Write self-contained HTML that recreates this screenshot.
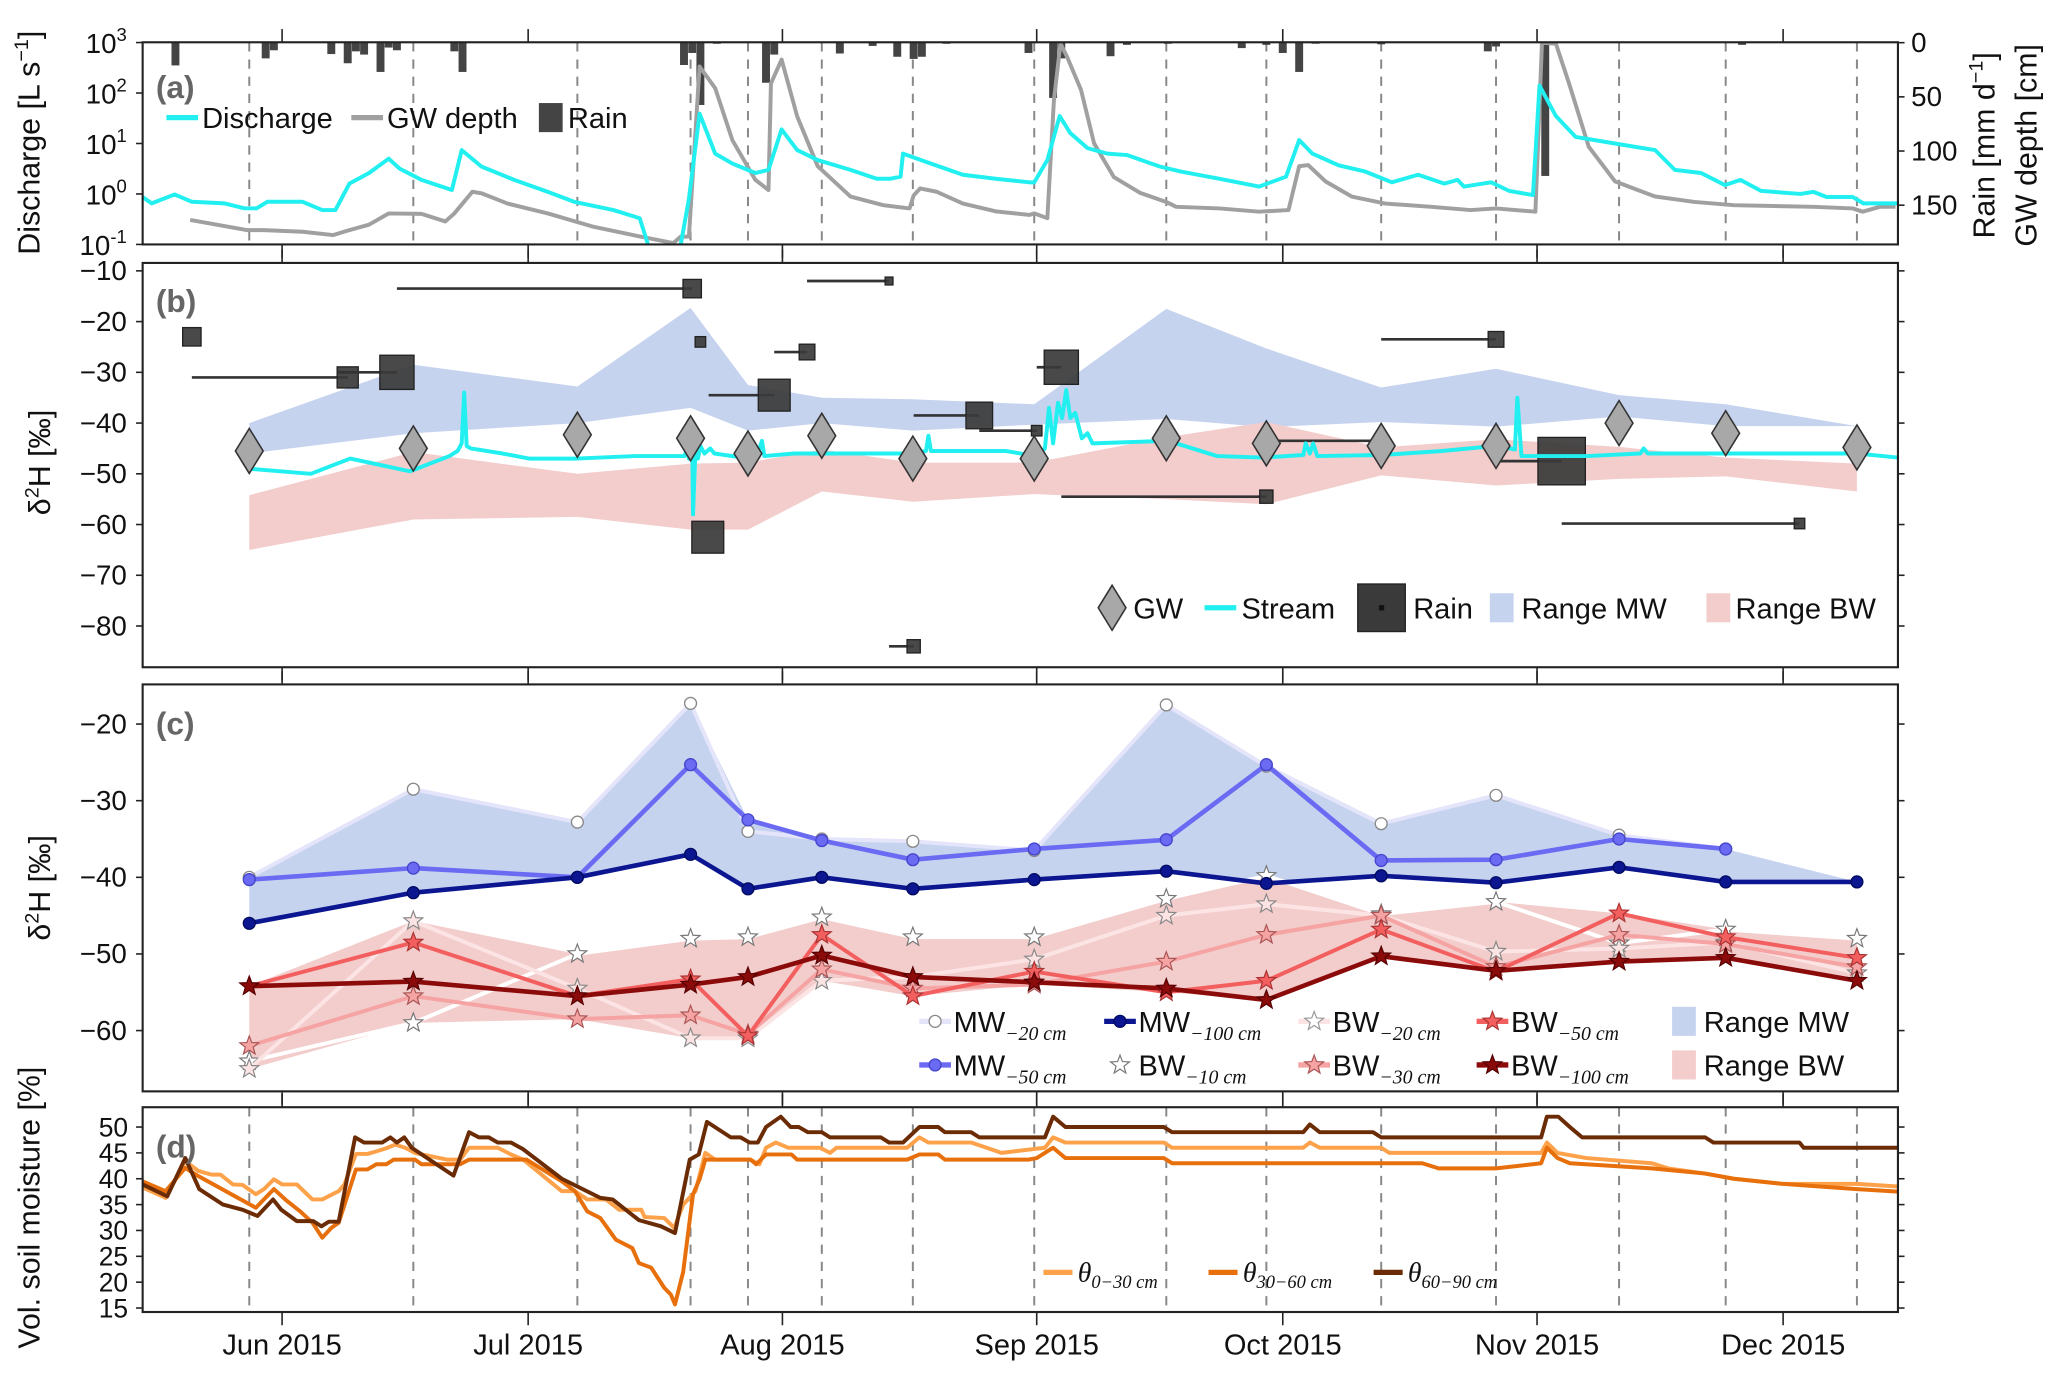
<!DOCTYPE html>
<html><head><meta charset="utf-8"><style>
html,body{margin:0;padding:0;background:#fff}
svg{display:block}
text{font-family:"Liberation Sans",Arial,sans-serif;fill:#111}
.sub{font-family:"Liberation Serif",serif;font-style:italic}
</style></head><body>
<svg id="chart" width="2067" height="1386" viewBox="0 0 1565 1049" preserveAspectRatio="none" xmlns="http://www.w3.org/2000/svg">
<defs>
<clipPath id="clipA"><rect x="108" y="32" width="1329" height="153"/></clipPath>
<clipPath id="clipB"><rect x="108" y="199" width="1329" height="306"/></clipPath>
<clipPath id="clipC"><rect x="108" y="518" width="1329" height="308"/></clipPath>
<clipPath id="clipD"><rect x="108" y="838" width="1329" height="155"/></clipPath>
</defs>
<g id="root"></g>
</svg>
<script>
// ---------------- data ----------------
const monthLabels = ["Jun 2015","Jul 2015","Aug 2015","Sep 2015","Oct 2015","Nov 2015","Dec 2015"];
const monthDays = [17,47,78,109,139,170,200];
const sampleDays = [13,33,53,66.8,73.8,82.8,93.9,108.7,124.8,137,151,165,180,193,209];

const dischargeSeries = [[0,0.87],[1.1,0.65],[3.9,0.98],[6,0.7],[10,0.65],[12.4,0.52],[13.9,0.52],[15.2,0.7],[19.5,0.7],[21.9,0.48],[23.5,0.48],[25.2,1.6],[27.6,2.6],[30,5],[31.3,3.2],[34,1.9],[37.7,1.2],[38.9,7.4],[41.3,3.5],[45.3,1.9],[49.4,1.1],[52.6,0.7],[57.4,0.48],[60.6,0.33],[61.8,0.08],[65.5,0.08],[66.6,0.8],[67.9,39],[69.8,6.3],[71.9,4],[74.7,2.6],[76.3,3],[77.9,19],[79.8,7.4],[82.3,4.7],[86.3,3],[89.5,2],[91.1,2],[92.4,2.2],[92.7,6.3],[95.2,4.5],[100,2.4],[104,2],[108.1,1.7],[108.7,1.7],[110.3,4.7],[111.8,35],[113.1,16],[115.2,8.1],[117.6,6.3],[120,5.9],[124,3.5],[126.5,2.8],[131.3,2],[136.1,1.4],[139.4,2.2],[141,11.7],[142.6,6.3],[145.8,3.7],[149,2.8],[152.3,1.7],[155.5,2.4],[158.7,1.6],[160.3,1.9],[161.1,1.4],[164.4,1.7],[166.6,1.15],[169.5,0.95],[170.3,140],[172.3,35],[174.7,13.5],[179.5,10],[184.4,7.4],[186.8,3],[190,2.6],[192.9,1.5],[194.8,1.9],[197.3,1.15],[202.1,1.0],[203.7,1.1],[205.3,0.87],[208.5,0.87],[209.8,0.65],[214,0.65]];
const gwDepthSeries = [[5.8,163.6],[12.7,173],[14.8,173],[19.5,174.5],[23.2,177.6],[25.2,173],[27.6,168],[30,157.6],[34,158],[36.9,165],[38,157.6],[40.2,137.6],[41.3,139],[44.5,148.5],[49.4,157.6],[55,170],[59.8,177.6],[64.7,185],[65.6,179],[66.6,179],[67.9,22],[69.8,42],[71.9,90],[74.7,126.6],[76.3,136],[76.6,37.6],[77.9,15.6],[79.8,68],[82.3,114],[86.3,142],[90.3,150],[93.5,153],[94,141],[94.8,134.5],[96.8,137.6],[100,148.5],[104,155.7],[108.1,159],[108.7,157.6],[110.3,162],[111.1,53],[111.9,0.8],[112.7,13],[114.4,43.5],[116,93],[118.4,124],[121.6,138.6],[124.8,147],[126,151.5],[131.3,153],[136.1,156],[139.7,154.5],[141,114],[142.1,113],[144.2,128],[147.4,142],[151.5,148.5],[157.1,151.5],[161.9,154.5],[165,153],[169.8,156],[170.6,0],[172.3,1],[173.9,37.6],[176.3,96],[179.5,128],[184.4,142],[189.2,147],[194,150],[203.7,151.5],[208.5,153],[209.7,156],[211.8,151.5],[213.7,151.5]];
const rainDay = [4,15,16,23,25,26,27,29,30,31,38,39,66,67,68,70,76,77,85,89,92,94,95,98,108,111,112,118,120,125,134,137,139,141,143,151,164,165,171,172,195];
const rainMm = [21,14.5,7,10.5,19,8,11,27,4.5,7,8,27,20.6,9.5,57.5,1,37,11,10,3,13,15,13,1,9.5,51,14.5,12.5,2,1,5,2,9.5,27,0.5,1.5,8,3.5,123,1.5,2];

const gwIsoValues = [-45.5,-45,-42.3,-43,-46,-42.5,-47,-47,-43,-44,-44.5,-44.5,-40,-42,-44.8];
const streamSeries = [[13,-49],[20.5,-50],[25.3,-47],[32.6,-49.5],[37.4,-46.5],[38.4,-45.5],[38.9,-44],[39.2,-34],[39.5,-44.5],[40,-45],[43.9,-46],[47.1,-47],[52.9,-47],[60,-46.5],[66.1,-46.5],[66.5,-44],[66.6,-47],[67,-43],[67.1,-58],[67.4,-45],[67.7,-47],[68,-44.5],[68.5,-46],[69.2,-45],[69.7,-46],[74,-47],[75,-46],[75.5,-43.5],[75.8,-46.5],[79.4,-46],[93.9,-46],[95.5,-45.5],[95.8,-42.5],[96.1,-45.5],[105.2,-45.5],[108.9,-46.5],[110,-45],[110.5,-37],[111,-44],[111.6,-36],[112.1,-39],[112.6,-33.5],[113.1,-39],[113.7,-38],[114.5,-43],[115.2,-42],[115.8,-44],[125,-43.5],[131,-46.5],[136.6,-46.8],[141.5,-46.3],[141.8,-44],[142.3,-46],[142.7,-44],[143.2,-46.5],[151.1,-46.3],[158.4,-45.5],[165,-44.5],[167.3,-45.2],[167.6,-35],[168.1,-46.5],[176.1,-46.5],[182.6,-46],[183,-45],[183.5,-46],[192.3,-46],[201.9,-46],[209,-46],[214,-46.8]];
const rainIsoDay = [6,25,31,67,68,68.9,77,81,91,102,109,112,94,137,151,165,173,202];
const rainIsoVal = [-23,-31,-30,-13.5,-24,-62.5,-34.5,-26,-12,-38.5,-41.5,-29,-84,-54.5,-43.5,-23.5,-47.5,-59.8];
const rainIsoAmount = [11,14.5,38,11,3.6,33,33,8,2,23,3.6,38,5.7,5.7,2,8,73,3.6];
const rainIsoStart = [6,6,23.7,31,68,68.9,69,77,81,94,102,109,91,112,137.4,151,165,173];

const mw20 = [-40,-28.5,-32.8,-17.3,-34,-35,-35.3,-36.5,-17.5,-25.5,-33,-29.3,-34.5,-36.3,null];
const mw50 = [-40.3,-38.8,-40,-25.3,-32.5,-35.2,-37.7,-36.3,-35.1,-25.3,-37.8,-37.7,-35,-36.3,null];
const mw100 = [-46,-42,-40,-37,-41.5,-40,-41.5,-40.3,-39.2,-40.8,-39.8,-40.7,-38.7,-40.6,-40.6];
const bw10 = [-64,-59,-50,-48,-47.8,-45.2,-47.8,-47.8,-42.8,-39.8,-44.8,-43.2,-48.6,-46.8,-48];
const bw20 = [-65,-45.7,-54.5,-61,-61,-53.5,-53,-50.7,-45,-43.5,-45,-49.7,-49.3,-48.5,-52.5];
const bw30 = [-62,-55.5,-58.5,-58,-60.5,-52,-54.5,-54,-51,-47.5,-45,-51.7,-47.5,-48.7,-51.7];
const bw50 = [-54.2,-48.5,-55.5,-53.3,-60.7,-47.5,-55.5,-52.3,-55,-53.5,-46.8,-52.3,-44.7,-47.8,-50.5];
const bw100 = [-54.2,-53.6,-55.5,-54,-53,-50.2,-53,-53.7,-54.5,-56,-50.3,-52.2,-51,-50.5,-53.5];

const theta0_30 = [[0,38.3],[2.8,36.3],[5.2,43.4],[6.8,41.5],[8.4,40.8],[9.5,40.8],[11,38.9],[12.2,38.8],[13.8,37],[14.8,38],[16,39.9],[17,38.9],[18.8,38.9],[20.7,36],[21.9,36],[23.9,37.6],[24.6,38.9],[26,44.8],[27.4,44.8],[28.5,45.3],[29.7,45.9],[30.8,46.6],[32,46],[33.2,45],[37.1,43.7],[38.7,43.7],[39.8,46],[43.3,46],[44.9,44.7],[46.4,43.7],[51.1,37.6],[52.7,37.6],[54.2,36],[56.5,36],[58.1,34],[60.8,34],[61.2,32.6],[63.6,32.4],[64.8,30.5],[65.9,35],[67.4,37.6],[68.6,45],[69.8,43.7],[74.1,43.7],[75.2,42.8],[76,46],[77.2,47],[78.7,46],[82.6,46],[83.8,45],[84.6,46],[93.2,46],[94.7,48],[95.8,47],[101,47],[102.9,46],[104.7,45],[110,46],[111,48],[112.5,47],[124.5,47],[125.5,46],[141.5,46],[142.3,47],[143.5,46],[151,46],[152,45],[170.5,45],[171.2,47],[172.5,45],[176,44],[184,43],[186,42],[190.5,41],[194,40],[200,39],[209,39],[214,38.5]];
const theta30_60 = [[0,39.5],[2.8,37.6],[5.2,42.1],[6.8,40.5],[13.8,34.4],[16,38],[17.6,35.7],[19.2,33.7],[20.7,31.5],[21.9,28.6],[23,30.5],[23.9,31.5],[26,41.8],[27.4,41.8],[28.5,42.8],[29.7,42.8],[30.6,43.7],[33.2,43.7],[34,42.8],[38.7,42.8],[39.8,43.7],[46.8,43.7],[51.1,39.5],[52.7,37.6],[54.2,33.7],[55.8,32.4],[57.7,28.2],[59.7,26.6],[60.5,23.7],[62,22.8],[63.6,18.9],[64.4,17.6],[64.9,15.7],[65.9,22],[67.1,37],[67.9,39.9],[68.6,43.7],[74.1,43.7],[74.8,42.8],[76,44.7],[79.1,44.7],[79.8,43.7],[93.2,43.7],[94.7,44.7],[97,44.7],[97.8,43.7],[108,43.7],[109,44],[111,46],[112.5,44],[124.5,44],[125.5,43],[156,43],[158,42],[165,42],[170.5,43],[171.2,46],[172.5,44],[174,43],[184,42],[190.5,41],[194,40],[200,39],[209,38],[214,37.5]];
const theta60_90 = [[0,38.9],[3,36.6],[5.2,44],[6.9,38],[9.8,35],[12.2,34],[14,32.8],[15.9,36],[16.9,34],[18.8,31.8],[20.8,31.8],[21.8,30.8],[22.7,31.7],[23.9,31.7],[25.9,48],[27,47],[29.2,47],[30.2,48],[31,47],[31.9,48],[32.8,46],[37.9,40.6],[39.8,49],[41,48],[42.2,48],[43.3,47],[44.9,47],[46.4,45.7],[51.1,40],[55.8,36.3],[57.3,36],[60.5,32],[63.2,30.8],[64.9,29.5],[66.7,43.7],[67.8,44.7],[68.8,51],[71.7,48],[72.9,48],[74,47],[75,47],[76,50],[77.8,52],[79,50],[80,50],[81.1,49],[82.8,49],[83.8,48],[90,48],[91,47],[92.7,47],[94.7,50],[97,50],[97.8,49],[101,49],[102,48],[108.5,48],[110,48],[111,52],[112.5,50],[124.5,50],[125.5,49],[141.5,49],[142.3,50.5],[143.5,49],[150,49],[151,48],[170.5,48],[171.2,52],[172.6,52],[174,50],[175.5,48],[190.5,48],[191.5,47],[202,47],[202.5,46],[214,46]];

// ---------------- helpers ----------------
const NS = "http://www.w3.org/2000/svg";
const root = document.getElementById("root");
const X0 = 108, X1 = 1437, D0 = 0, D1 = 214;
function xs(d){ return X0 + (d - D0) / (D1 - D0) * (X1 - X0); }
function yA(v){ return 185 - (Math.log10(v) + 1) * 38.2; }
function yR(cm){ return 32.3 + cm * 0.82; }
function yB(v){ return 205 + (-10 - v) * 3.84; }
function yC(v){ return 548 + (-20 - v) * 5.8; }
function yD(v){ return 853 + (50 - v) * 3.914; }
function mk(tag, attrs, parent){
  const e = document.createElementNS(NS, tag);
  for (const k in attrs) e.setAttribute(k, attrs[k]);
  (parent || root).appendChild(e);
  return e;
}
function txt(s, x, y, size, anchor, parent){
  const t = mk("text", {x:x, y:y, "font-size":size, "text-anchor":anchor||"start"}, parent);
  t.textContent = s;
  return t;
}
function pathFrom(pts){ return pts.map((p,i)=>(i?"L":"M")+p[0].toFixed(2)+","+p[1].toFixed(2)).join(""); }
function starPath(cx, cy, r){
  let d = "";
  for (let i=0;i<10;i++){
    const rr = i%2 ? r*0.42 : r;
    const a = -Math.PI/2 + i*Math.PI/5;
    d += (i?"L":"M") + (cx+rr*Math.cos(a)).toFixed(2) + "," + (cy+rr*Math.sin(a)).toFixed(2);
  }
  return d + "Z";
}

// ---------------- frames ----------------
const panels = [
  {name:"a", y0:32, y1:185},
  {name:"b", y0:199, y1:505},
  {name:"c", y0:518, y1:826},
  {name:"d", y0:838, y1:993}
];
panels.forEach(p=>{
  const g = mk("g", {});
  
  
  monthDays.forEach(d=>{
    mk("line", {x1:xs(d), x2:xs(d), y1:p.y0, y2:p.y0-10, stroke:"#222", "stroke-width":1.2}, g);
    mk("line", {x1:xs(d), x2:xs(d), y1:p.y1, y2:p.y1+10, stroke:"#222", "stroke-width":1.2}, g);
  });
});

// dashed sampling lines for a and d
[["clipA",32,185],["clipD",838,993]].forEach(c=>{
  const g = mk("g", {"clip-path":"url(#"+c[0]+")"});
  
  
  sampleDays.forEach(d=>{
    mk("line", {x1:xs(d), x2:xs(d), y1:c[1], y2:c[2], stroke:"#888", "stroke-width":1.5, "stroke-dasharray":"7,6"}, g);
  });
});

// ---------------- panel a ----------------
(function(){
  const g = mk("g", {"clip-path":"url(#clipA)"});
  
  
  rainDay.forEach((d,i)=>{
    const r = mk("rect", {x:xs(d)-3, y:32.3, width:6, height:Math.max(0.8, yR(rainMm[i])-32.3), fill:"#444"}, g);
    
    
  });
  const gw = mk("path", {d:pathFrom(gwDepthSeries.map(p=>[xs(p[0]), yR(p[1])])), fill:"none", stroke:"#a0a0a0", "stroke-width":3, "stroke-linejoin":"round"}, g);
  
  
  const q = mk("path", {d:pathFrom(dischargeSeries.map(p=>[xs(p[0]), yA(p[1])])), fill:"none", stroke:"#22f0f0", "stroke-width":3, "stroke-linejoin":"round"}, g);
  
  
  const t = mk("g", {});
  
  
  [-1,0,1,2,3].forEach(e=>{
    const y = yA(Math.pow(10,e));
    mk("line", {x1:103, x2:108, y1:y, y2:y, stroke:"#222", "stroke-width":1.2}, t);
    const tx = txt("", 96, y+8, 21, "end", t);
    tx.textContent = "10";
    const s = mk("tspan", {dy:-9, "font-size":14}, tx);
    s.textContent = String(e);
  });
  [0,50,100,150].forEach(v=>{
    const y = yR(v);
    mk("line", {x1:1437, x2:1442, y1:y, y2:y, stroke:"#222", "stroke-width":1.2}, t);
    txt(String(v), 1447, y+7, 21, "start", t);
  });
  const lg = mk("g", {});
  
  
  mk("line", {x1:126, x2:150, y1:89, y2:89, stroke:"#22f0f0", "stroke-width":4}, lg);
  txt("Discharge", 153, 97, 22, "start", lg);
  mk("line", {x1:266, x2:290, y1:89, y2:89, stroke:"#a0a0a0", "stroke-width":4}, lg);
  txt("GW depth", 293, 97, 22, "start", lg);
  mk("rect", {x:408, y:78, width:18, height:22, fill:"#444"}, lg);
  txt("Rain", 430, 97, 22, "start", lg);
  txt("(a)", 118, 74, 24, "start").setAttribute("style","font-weight:bold;fill:#666");
})();

// ---------------- panel b ----------------
(function(){
  const g = mk("g", {"clip-path":"url(#clipB)"});
  
  
  const mwTop = sampleDays.map((d,i)=>Math.max(...[mw20[i],mw50[i],mw100[i]].filter(v=>v!==null)));
  const mwBot = sampleDays.map((d,i)=>Math.min(...[mw20[i],mw50[i],mw100[i]].filter(v=>v!==null)));
  const bwAll = [bw10,bw20,bw30,bw50,bw100];
  const bwTop = sampleDays.map((d,i)=>Math.max(...bwAll.map(a=>a[i])));
  const bwBot = sampleDays.map((d,i)=>Math.min(...bwAll.map(a=>a[i])));
  window._ranges = {mwTop, mwBot, bwTop, bwBot};
  function band(top, bot, yf, color, name, parent){
    const pts = sampleDays.map((d,i)=>[xs(d), yf(top[i])]).concat(sampleDays.map((d,i)=>[xs(d), yf(bot[i])]).reverse());
    const p = mk("path", {d:pathFrom(pts)+"Z", fill:color, stroke:"none"}, parent);
    
    
  }
  band(mwTop, mwBot, yB, "#c6d3ef", "range-mw-band", g);
  band(bwTop, bwBot, yB, "#f3cccc", "range-bw-band", g);
  rainIsoDay.forEach((d,i)=>{
    const cx = xs(d), cy = yB(rainIsoVal[i]);
    const l = mk("line", {x1:xs(rainIsoStart[i]), x2:cx, y1:cy, y2:cy, stroke:"#333", "stroke-width":2}, g);
    
    
    const s = 4.2*Math.sqrt(rainIsoAmount[i]);
    const r = mk("rect", {x:cx-s/2, y:cy-s/2, width:s, height:s, fill:"#3a3a3a", "fill-opacity":0.92, stroke:"#222", "stroke-width":1}, g);
    
    
  });
  const st = mk("path", {d:pathFrom(streamSeries.map(p=>[xs(p[0]), yB(p[1])])), fill:"none", stroke:"#22f0f0", "stroke-width":3, "stroke-linejoin":"round"}, g);
  
  
  sampleDays.forEach((d,i)=>{
    const cx = xs(d), cy = yB(gwIsoValues[i]);
    const dm = mk("path", {d:`M${cx},${cy-17}L${cx+10.5},${cy}L${cx},${cy+17}L${cx-10.5},${cy}Z`, fill:"#a8a8a8", stroke:"#333", "stroke-width":1.2}, g);
    
    
  });
  const t = mk("g", {});
  
  
  [-10,-20,-30,-40,-50,-60,-70,-80].forEach(v=>{
    const y = yB(v);
    mk("line", {x1:103, x2:108, y1:y, y2:y, stroke:"#222", "stroke-width":1.2}, t);
    mk("line", {x1:1437, x2:1442, y1:y, y2:y, stroke:"#222", "stroke-width":1.2}, t);
    txt("\u2212"+Math.abs(v), 96, y+7, 21, "end", t);
  });
  const lg = mk("g", {});
  
  
  mk("path", {d:"M842,443L852.5,460L842,477L831.5,460Z", fill:"#a8a8a8", stroke:"#333", "stroke-width":1.2}, lg);
  txt("GW", 858, 468, 22, "start", lg);
  mk("line", {x1:912, x2:936, y1:460, y2:460, stroke:"#22f0f0", "stroke-width":4}, lg);
  txt("Stream", 940, 468, 22, "start", lg);
  mk("rect", {x:1028, y:442, width:36, height:36, fill:"#3a3a3a", stroke:"#222"}, lg);
  mk("rect", {x:1044, y:458, width:4, height:4, fill:"#111"}, lg);
  txt("Rain", 1070, 468, 22, "start", lg);
  mk("rect", {x:1128, y:449, width:18, height:22, fill:"#c6d3ef"}, lg);
  txt("Range MW", 1152, 468, 22, "start", lg);
  mk("rect", {x:1292, y:449, width:18, height:22, fill:"#f3cccc"}, lg);
  txt("Range BW", 1314, 468, 22, "start", lg);
  txt("(b)", 118, 236, 24, "start").setAttribute("style","font-weight:bold;fill:#666");
})();

// ---------------- panel c ----------------
(function(){
  const g = mk("g", {"clip-path":"url(#clipC)"});
  
  
  const R = window._ranges;
  function band(top, bot, color, name){
    const pts = sampleDays.map((d,i)=>[xs(d), yC(top[i])]).concat(sampleDays.map((d,i)=>[xs(d), yC(bot[i])]).reverse());
    const p = mk("path", {d:pathFrom(pts)+"Z", fill:color}, g);
    
    
  }
  band(R.mwTop, R.mwBot, "#c6d3ef", "range-mw-band-c");
  band(R.bwTop, R.bwBot, "#f3cccc", "range-bw-band-c");
  function series(vals, color, width, marker, fill, stroke, name){
    const pts = []; sampleDays.forEach((d,i)=>{ if (vals[i]!==null) pts.push([xs(d), yC(vals[i])]); });
    const l = mk("path", {d:pathFrom(pts), fill:"none", stroke:color, "stroke-width":width, "stroke-linejoin":"round"}, g);
    
    
    pts.forEach(p=>{
      let m;
      if (marker==="circle") m = mk("circle", {cx:p[0], cy:p[1], r:4.5, fill:fill, stroke:stroke, "stroke-width":1}, g);
      else m = mk("path", {d:starPath(p[0],p[1],7.5), fill:fill, stroke:stroke, "stroke-width":0.9}, g);
      
      
    });
  }
  series(bw10, "#ffffff", 3, "star", "#ffffff", "#777", "bw-10cm");
  series(bw20, "#fde4e4", 3, "star", "#fde4e4", "#888", "bw-20cm");
  series(bw30, "#f5a3a3", 3, "star", "#f5a3a3", "#a55", "bw-30cm");
  series(bw50, "#f35e5e", 3, "star", "#f35e5e", "#a33", "bw-50cm");
  series(bw100, "#8b0a0a", 3.5, "star", "#8b0a0a", "#500", "bw-100cm");
  series(mw20, "#e4e4fa", 3, "circle", "#ffffff", "#888", "mw-20cm");
  series(mw50, "#6a6af2", 3.5, "circle", "#6a6af2", "#4444cc", "mw-50cm");
  series(mw100, "#0c1690", 3.5, "circle", "#0c1690", "#000a60", "mw-100cm");
  const t = mk("g", {});
  
  
  [-20,-30,-40,-50,-60].forEach(v=>{
    const y = yC(v);
    mk("line", {x1:103, x2:108, y1:y, y2:y, stroke:"#222", "stroke-width":1.2}, t);
    mk("line", {x1:1437, x2:1442, y1:y, y2:y, stroke:"#222", "stroke-width":1.2}, t);
    txt("\u2212"+Math.abs(v), 96, y+7, 21, "end", t);
  });
  const lg = mk("g", {});
  
  
  function entry(x, y, color, marker, fill, stroke, label, sub){
    mk("line", {x1:x-12, x2:x+12, y1:y, y2:y, stroke:color, "stroke-width":4}, lg);
    if (marker==="circle") mk("circle", {cx:x, cy:y, r:4.5, fill:fill, stroke:stroke}, lg);
    else mk("path", {d:starPath(x,y,7.5), fill:fill, stroke:stroke, "stroke-width":0.9}, lg);
    const t = txt(label, x+14, y+8, 22, "start", lg);
    const s = mk("tspan", {dy:6, "font-size":15, class:"sub"}, t);
    s.textContent = sub;
  }
  entry(708, 773, "#e4e4fa", "circle", "#fff", "#888", "MW", "\u221220 cm");
  entry(848, 773, "#0c1690", "circle", "#0c1690", "#000a60", "MW", "\u2212100 cm");
  entry(995, 773, "#fde4e4", "star", "#fff", "#999", "BW", "\u221220 cm");
  entry(1130, 773, "#f35e5e", "star", "#f35e5e", "#a33", "BW", "\u221250 cm");
  entry(708, 806, "#6a6af2", "circle", "#6a6af2", "#4444cc", "MW", "\u221250 cm");
  entry(848, 806, "#ffffff", "star", "#fff", "#777", "BW", "\u221210 cm");
  entry(995, 806, "#f5a3a3", "star", "#f5a3a3", "#a55", "BW", "\u221230 cm");
  entry(1130, 806, "#8b0a0a", "star", "#8b0a0a", "#500", "BW", "\u2212100 cm");
  mk("rect", {x:1266, y:762, width:18, height:22, fill:"#c6d3ef"}, lg);
  txt("Range MW", 1290, 781, 22, "start", lg);
  mk("rect", {x:1266, y:795, width:18, height:22, fill:"#f3cccc"}, lg);
  txt("Range BW", 1290, 814, 22, "start", lg);
  txt("(c)", 118, 556, 24, "start").setAttribute("style","font-weight:bold;fill:#666");
})();

// ---------------- panel d ----------------
(function(){
  const g = mk("g", {"clip-path":"url(#clipD)"});
  
  
  const a = mk("path", {d:pathFrom(theta0_30.map(p=>[xs(p[0]), yD(p[1])])), fill:"none", stroke:"#fda24a", "stroke-width":3, "stroke-linejoin":"round"}, g);
  
  
  const b = mk("path", {d:pathFrom(theta30_60.map(p=>[xs(p[0]), yD(p[1])])), fill:"none", stroke:"#e8700c", "stroke-width":3, "stroke-linejoin":"round"}, g);
  
  
  const c = mk("path", {d:pathFrom(theta60_90.map(p=>[xs(p[0]), yD(p[1])])), fill:"none", stroke:"#6b2c05", "stroke-width":3, "stroke-linejoin":"round"}, g);
  
  
  const t = mk("g", {});
  
  
  [50,45,40,35,30,25,20,15].forEach(v=>{
    const y = yD(v);
    mk("line", {x1:103, x2:108, y1:y, y2:y, stroke:"#222", "stroke-width":1.2}, t);
    mk("line", {x1:1437, x2:1442, y1:y, y2:y, stroke:"#222", "stroke-width":1.2}, t);
    txt(String(v), 97, y+7, 20, "end", t);
  });
  const lg = mk("g", {});
  
  
  [[790,"#fda24a","0\u221230 cm"],[915,"#e8700c","30\u221260 cm"],[1040,"#6b2c05","60\u221290 cm"]].forEach(e=>{
    mk("line", {x1:e[0], x2:e[0]+22, y1:963, y2:963, stroke:e[1], "stroke-width":4}, lg);
    const tt = txt("", e[0]+26, 970, 21, "start", lg);
    tt.setAttribute("class","sub");
    tt.textContent = "\u03b8";
    const s = mk("tspan", {dy:5, "font-size":14}, tt);
    s.textContent = e[2];
  });
  txt("(d)", 118, 876, 24, "start").setAttribute("style","font-weight:bold;fill:#666");
})();

// frames on top
panels.forEach(p=>{
  const r = mk("rect", {x:108, y:p.y0, width:1329, height:p.y1-p.y0, fill:"none", stroke:"#222", "stroke-width":1.6});
  
  
});

// x labels
monthLabels.forEach((s,i)=>{
  const t = txt(s, xs(monthDays[i]), 1025, 22, "middle");
  
  
});

// axis titles
function vtitle(parts, x, y, name){
  const t = mk("text", {x:0, y:0, "font-size":23, "text-anchor":"middle", transform:`translate(${x},${y}) rotate(-90)`});
  
  
  parts.forEach(p=>{
    const s = mk("tspan", p[1] ? {dy:p[1], "font-size":p[2]||23} : {}, t);
    s.textContent = p[0];
  });
}
vtitle([["Discharge [L s"],["\u22121",-9,15],["]",9]], 30, 108, "y-axis-title-discharge");
vtitle([["Rain [mm d"],["\u22121",-9,15],["]",9]], 1510, 110, "y-axis-title-rain");
vtitle([["GW depth [cm]"]], 1542, 110, "y-axis-title-gw-depth");
vtitle([["\u03b4"],["2",-9,15],["H [\u2030]",9]], 38, 350, "y-axis-title-d2h-b");
vtitle([["\u03b4"],["2",-9,15],["H [\u2030]",9]], 38, 672, "y-axis-title-d2h-c");
vtitle([["Vol. soil moisture [%]"]], 30, 914, "y-axis-title-soil-moisture");
</script>
</body></html>
